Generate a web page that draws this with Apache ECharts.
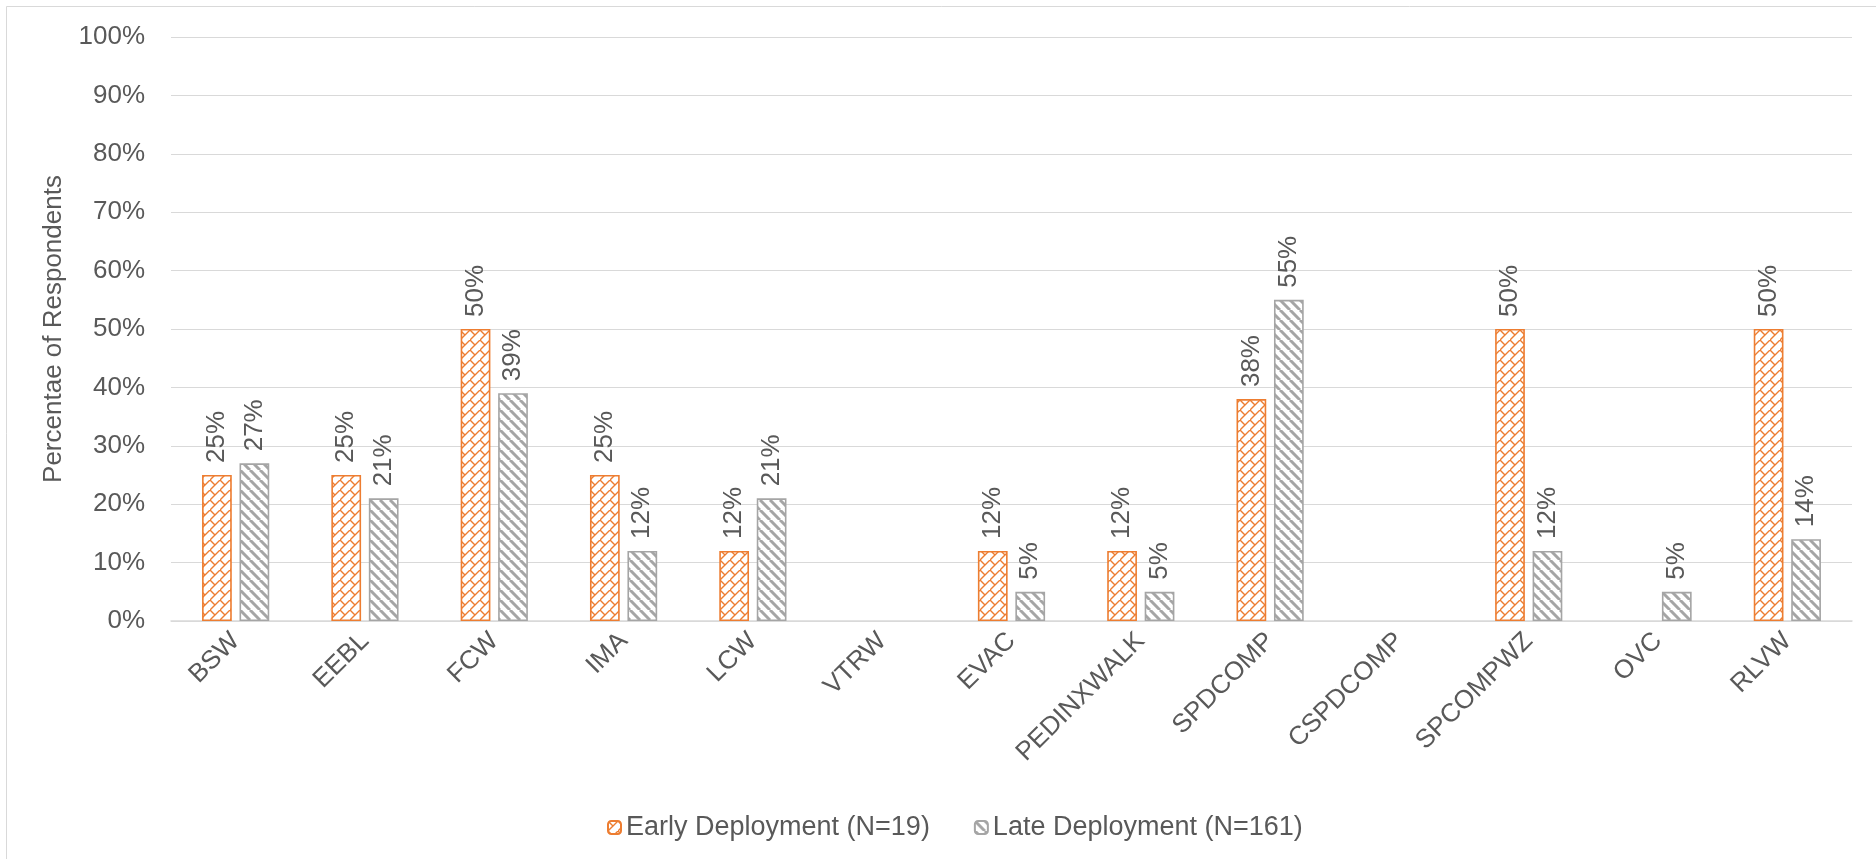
<!DOCTYPE html>
<html>
<head>
<meta charset="utf-8">
<title>Percentage of Respondents by Application</title>
<script src="https://cdn.jsdelivr.net/npm/echarts@6/dist/echarts.min.js"></script>
<style>
  html, body { margin: 0; padding: 0; background: #ffffff; }
  #chart { width: 1876px; height: 859px; }
</style>
</head>
<body>
<div id="chart"></div>
<script>
// Applications on the category axis
const categories = ['BSW', 'EEBL', 'FCW', 'IMA', 'LCW', 'VTRW', 'EVAC', 'PEDINXWALK',
  'SPDCOMP', 'CSPDCOMP', 'SPCOMPWZ', 'OVC', 'RLVW'];

// Share of respondents (%), null where no response was recorded
const earlyDeployment = [25, 25, 50, 25, 12, null, 12, 12, 38, null, 50, null, 50];
const lateDeployment  = [27, 21, 39, 12, 21, null, 5, 5, 55, null, 12, 5, 14];

const seriesNames = ['Early Deployment (N=19)', 'Late Deployment (N=161)'];
const yTicks = [0, 10, 20, 30, 40, 50, 60, 70, 80, 90, 100];

const ORANGE = '#ED7D31';
const GRAY = '#A5A5A5';
const TEXT = '#595959';
const FONT = '"Liberation Sans", Arial, sans-serif';

// Zigzag fill for the early-deployment bars
function zigzagTile() {
  const s = 10;
  const c = document.createElement('canvas');
  c.width = s; c.height = s;
  const g = c.getContext('2d');
  g.fillStyle = '#ffffff';
  g.fillRect(0, 0, s, s);
  g.strokeStyle = ORANGE;
  g.lineWidth = 1.4;
  g.beginPath();
  g.moveTo(0, s); g.lineTo(s, 0);
  g.moveTo(0, 0); g.lineTo(s / 2, s / 2);
  g.stroke();
  return c;
}

// Wide downward-diagonal stripes for the late-deployment bars
function stripeTile() {
  const s = 10;
  const c = document.createElement('canvas');
  c.width = s; c.height = s;
  const g = c.getContext('2d');
  g.fillStyle = '#ffffff';
  g.fillRect(0, 0, s, s);
  g.strokeStyle = GRAY;
  g.lineWidth = 3;
  g.beginPath();
  for (let k = -s; k <= s; k += s) {
    g.moveTo(k, 0); g.lineTo(k + s, s);
  }
  g.stroke();
  return c;
}

const chart = echarts.init(document.getElementById('chart'));

const labelStyle = {
  show: true,
  position: 'top',
  rotate: 90,
  align: 'left',
  verticalAlign: 'middle',
  distance: 12,
  color: TEXT,
  fontSize: 26,
  fontFamily: FONT,
  formatter: p => (p.value == null ? '' : p.value + '%')
};

chart.setOption({
  backgroundColor: '#ffffff',
  animation: false,
  graphic: [{
    type: 'rect',
    silent: true,
    shape: { x: 6.5, y: 6.5, width: 1900, height: 900 },
    style: { fill: 'none', stroke: '#D9D9D9', lineWidth: 1 }
  }],
  grid: { left: 171, right: 24, top: 37, bottom: 238 },
  legend: {
    data: seriesNames,
    bottom: 13,
    left: 602,
    itemWidth: 13,
    itemHeight: 13,
    itemGap: 44,
    textStyle: { color: TEXT, fontSize: 27, fontFamily: FONT }
  },
  xAxis: {
    type: 'category',
    data: categories,
    axisLine: { lineStyle: { color: '#D9D9D9', width: 1.5 } },
    axisTick: { show: false },
    axisLabel: {
      rotate: 45,
      interval: 0,
      margin: 16,
      color: TEXT,
      fontSize: 26,
      fontFamily: FONT
    }
  },
  yAxis: {
    type: 'value',
    min: yTicks[0],
    max: yTicks[yTicks.length - 1],
    interval: yTicks[1] - yTicks[0],
    name: 'Percentae of Respondents',
    nameLocation: 'middle',
    nameGap: 104,
    nameTextStyle: { color: TEXT, fontSize: 26, fontFamily: FONT },
    axisLine: { show: false },
    axisTick: { show: false },
    axisLabel: {
      margin: 26,
      color: TEXT,
      fontSize: 26,
      fontFamily: FONT,
      formatter: v => v + '%'
    },
    splitLine: { lineStyle: { color: '#D9D9D9', width: 1.2 } }
  },
  series: [
    {
      name: seriesNames[0],
      type: 'bar',
      data: earlyDeployment,
      barWidth: '23%',
      barGap: '26%',
      itemStyle: {
        color: { image: zigzagTile(), repeat: 'repeat' },
        borderColor: ORANGE,
        borderWidth: 1.6
      },
      label: labelStyle
    },
    {
      name: seriesNames[1],
      type: 'bar',
      data: lateDeployment,
      barWidth: '23%',
      barGap: '26%',
      itemStyle: {
        color: { image: stripeTile(), repeat: 'repeat' },
        borderColor: GRAY,
        borderWidth: 1.6
      },
      label: labelStyle
    }
  ]
});
</script>
</body>
</html>
